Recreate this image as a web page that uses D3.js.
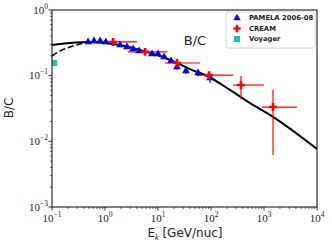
<!DOCTYPE html>
<html><head><meta charset="utf-8">
<script src="https://cdn.jsdelivr.net/npm/d3@7"></script>
<style>body{margin:0;background:#fff}</style>
</head><body><svg id="svg" width="332" height="248"></svg>
<script>
var svg = d3.select("#svg");

// PAMELA 2006-08 B/C
var pamelaE = [0.48, 0.62, 0.81, 1.04, 1.92, 2.6, 3.4, 4.4, 7.7, 10, 13, 17.6, 22.8, 33.7, 57, 96];
var pamelaR = [0.326, 0.337, 0.337, 0.326, 0.293, 0.273, 0.255, 0.238, 0.214, 0.214, 0.192, 0.167, 0.136, 0.118, 0.11, 0.092];
var pamelaErr = [0.01, 0.01, 0.01, 0.01, 0.01, 0.01, 0.01, 0.01, 0.012, 0.012, 0.012, 0.013, 0.013, 0.012, 0.012, 0.014];

// CREAM
var creamE = [1.42, 5.7, 22.8, 92, 368, 1480];
var creamElo = [0.8, 2.7, 13.5, 54, 260, 912];
var creamEhi = [4.0, 15, 62, 260, 1000, 4170];
var creamR = [0.326, 0.23, 0.156, 0.102, 0.072, 0.0333];
var creamRlo = [0.31, 0.215, 0.145, 0.092, 0.0441, 0.0062];
var creamRhi = [0.342, 0.245, 0.167, 0.112, 0.0986, 0.0605];

// Voyager
var voyagerE = [0.11];
var voyagerR = [0.156];

// model curves
var modelE = [0.1, 0.219, 0.48, 1.0, 1.92, 4.56, 10.9, 22.8, 40, 91.6, 228, 537, 1480, 10000];
var modelR = [0.293, 0.315, 0.326, 0.315, 0.293, 0.246, 0.199, 0.156, 0.126, 0.0954, 0.0606, 0.0385, 0.0236, 0.00764];
var modE = [0.1, 0.142, 0.219, 0.337, 0.52];
var modR = [0.199, 0.238, 0.273, 0.304, 0.32];

var xTicks = [0.1, 1, 10, 100, 1000, 10000];
var yTicks = [0.001, 0.01, 0.1, 1];

var pL = 52, pR = 317, pT = 10, pB = 207;

var x = d3.scaleLog().domain([0.1, 10000]).range([pL, pR]);
var y = d3.scaleLog().domain([0.001, 1]).range([pB, pT]);

function minors(lo, hi) {
    var out = [];
    for (var d = lo; d < hi * 0.99; d *= 10)
        for (var k = 2; k < 10; k++) out.push(d * k);
    return out;
}

svg.append("clipPath").attr("id", "clip")
    .append("rect").attr("x", pL).attr("y", pT)
    .attr("width", pR - pL).attr("height", pB - pT);

var plot = svg.append("g").attr("clip-path", "url(#clip)");

var line = d3.line()
    .x(function (d) { return x(d[0]); })
    .y(function (d) { return y(d[1]); })
    .curve(d3.curveMonotoneX);

plot.append("path")
    .attr("d", line(modelE.map(function (e, i) { return [e, modelR[i]]; })))
    .attr("fill", "none").attr("stroke", "black").attr("stroke-width", 2);

plot.append("path")
    .attr("d", line(modE.map(function (e, i) { return [e, modR[i]]; })))
    .attr("fill", "none").attr("stroke", "black").attr("stroke-width", 1.6)
    .attr("stroke-dasharray", "6,3");

// CREAM error bars
creamE.forEach(function (e, i) {
    plot.append("line")
        .attr("x1", x(creamElo[i])).attr("x2", x(creamEhi[i]))
        .attr("y1", y(creamR[i])).attr("y2", y(creamR[i]))
        .attr("stroke", "red").attr("stroke-width", 1.2);
    plot.append("line")
        .attr("x1", x(e)).attr("x2", x(e))
        .attr("y1", y(creamRlo[i])).attr("y2", y(creamRhi[i]))
        .attr("stroke", "red").attr("stroke-width", 1.2);
});

// PAMELA
pamelaE.forEach(function (e, i) {
    plot.append("line")
        .attr("x1", x(e)).attr("x2", x(e))
        .attr("y1", y(pamelaR[i] - pamelaErr[i])).attr("y2", y(pamelaR[i] + pamelaErr[i]))
        .attr("stroke", "blue").attr("stroke-width", 1.2);
});
plot.selectAll("path.pam")
    .data(pamelaE)
    .enter().append("path").attr("class", "pam")
    .attr("d", d3.symbol().type(d3.symbolTriangle).size(26))
    .attr("transform", function (d, i) { return "translate(" + x(d) + "," + y(pamelaR[i]) + ")"; })
    .attr("fill", "blue");

plot.selectAll("path.cream")
    .data(creamE)
    .enter().append("path").attr("class", "cream")
    .attr("d", d3.symbol().type(d3.symbolCross).size(34))
    .attr("transform", function (d, i) { return "translate(" + x(d) + "," + y(creamR[i]) + ")"; })
    .attr("fill", "red");

plot.selectAll("rect.voy")
    .data(voyagerE)
    .enter().append("rect").attr("class", "voy")
    .attr("x", function (d) { return x(d) - 3; })
    .attr("y", function (d, i) { return y(voyagerR[i]) - 3; })
    .attr("width", 6).attr("height", 6)
    .attr("fill", "#1fbfbf");

// frame
svg.append("rect").attr("x", pL).attr("y", pT)
    .attr("width", pR - pL).attr("height", pB - pT)
    .attr("fill", "none").attr("stroke", "black").attr("stroke-width", 1);

// ticks
var ax = svg.append("g");
ax.selectAll("line.xmaj").data(xTicks).enter().append("line")
    .attr("x1", function (d) { return x(d); }).attr("x2", function (d) { return x(d); })
    .attr("y1", pB).attr("y2", pB + 3.5).attr("stroke", "black").attr("stroke-width", 0.8);
ax.selectAll("line.xmin").data(minors(0.1, 10000)).enter().append("line")
    .attr("x1", function (d) { return x(d); }).attr("x2", function (d) { return x(d); })
    .attr("y1", pB).attr("y2", pB + 2).attr("stroke", "black").attr("stroke-width", 0.6);
ax.selectAll("line.ymaj").data(yTicks).enter().append("line")
    .attr("y1", function (d) { return y(d); }).attr("y2", function (d) { return y(d); })
    .attr("x1", pL - 3.5).attr("x2", pL).attr("stroke", "black").attr("stroke-width", 0.8);
ax.selectAll("line.ymin").data(minors(0.001, 1)).enter().append("line")
    .attr("y1", function (d) { return y(d); }).attr("y2", function (d) { return y(d); })
    .attr("x1", pL - 2).attr("x2", pL).attr("stroke", "black").attr("stroke-width", 0.6);

function powLabel(sel) {
    sel.attr("font-family", "Liberation Serif, DejaVu Serif, serif")
        .attr("font-size", 11).attr("fill", "#222");
    sel.append("tspan").text("10");
    sel.append("tspan").attr("dy", -5).attr("font-size", 7.5)
        .text(function (d) { var p = Math.round(Math.log10(d)); return p < 0 ? "\u2212" + (-p) : p; });
}

ax.selectAll("text.xl").data(xTicks).enter().append("text")
    .attr("x", function (d) { return x(d); }).attr("y", pB + 15)
    .attr("text-anchor", "middle").call(powLabel);
ax.selectAll("text.yl").data(yTicks).enter().append("text")
    .attr("x", pL - 4).attr("y", function (d) { return y(d) + 3.5; })
    .attr("text-anchor", "end").call(powLabel);

// axis labels
var xl = svg.append("text").attr("x", 185).attr("y", 237).attr("text-anchor", "middle")
    .attr("font-family", "DejaVu Sans, sans-serif").attr("font-size", 12).attr("fill", "#222");
xl.append("tspan").text("E");
xl.append("tspan").attr("dy", 2.5).attr("font-size", 8).attr("font-style", "italic")
    .attr("font-family", "Liberation Serif, serif").text("k");
xl.append("tspan").attr("dy", -2.5).text(" [GeV/nuc]");

svg.append("text").attr("transform", "translate(13,108) rotate(-90)")
    .attr("text-anchor", "middle").attr("font-family", "DejaVu Sans, sans-serif")
    .attr("font-size", 12).attr("fill", "#222").text("B/C");

svg.append("text").attr("x", 195).attr("y", 45).attr("text-anchor", "middle")
    .attr("font-family", "DejaVu Sans, sans-serif").attr("font-size", 13)
    .attr("fill", "#222").text("B/C");

// legend
var lg = svg.append("g");
lg.append("rect").attr("x", 226).attr("y", 12).attr("width", 89).attr("height", 36)
    .attr("rx", 2).attr("fill", "white").attr("stroke", "#ccc").attr("stroke-width", 0.8);
var legItems = ["PAMELA 2006-08", "CREAM", "Voyager"];
lg.selectAll("text").data(legItems).enter().append("text")
    .attr("x", 249).attr("y", function (d, i) { return 20 + i * 10.5; })
    .attr("font-family", "DejaVu Sans, sans-serif").attr("font-weight", "bold")
    .attr("font-size", 6.8).attr("fill", "#222").text(function (d) { return d; });
lg.append("path").attr("d", d3.symbol().type(d3.symbolTriangle).size(24))
    .attr("transform", "translate(237,18)").attr("fill", "blue");
lg.append("path").attr("d", d3.symbol().type(d3.symbolCross).size(30))
    .attr("transform", "translate(237,28.5)").attr("fill", "red");
lg.append("rect").attr("x", 234).attr("y", 36).attr("width", 6).attr("height", 6).attr("fill", "#1fbfbf");
</script></body></html>
